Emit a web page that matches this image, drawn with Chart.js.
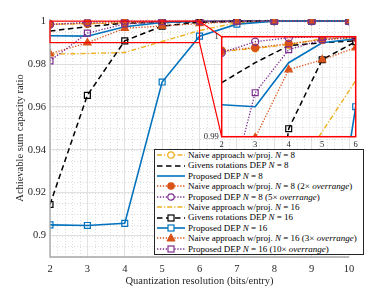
<!DOCTYPE html>
<html>
<head>
<meta charset="utf-8">
<script src="https://cdn.jsdelivr.net/npm/chart.js@4.4.1/dist/chart.umd.min.js"></script>
<style>
body { margin: 0; background: #fff; }
#wrap { position: relative; width: 385px; height: 289px; overflow: hidden; }
#main { position: absolute; left: 0; top: 0; }
#insetBox { position: absolute; left: 195px; top: 28px; width: 170px; height: 124px; }
#legend {
    position: absolute; left: 154px; top: 149px; width: 208px; height: 104px;
    border: 1px solid #262626; background: #fff;
    font-family: "Liberation Serif", serif; font-size: 9px; color: #000;
}
#legend .row { height: 10.4px; line-height: 10.4px; white-space: nowrap; display: flex; align-items: center; }
#legend svg { flex: none; margin-left: 1px; margin-right: 2px; }
</style>
</head>
<body>
<div id="wrap">
    <canvas id="main" width="385" height="289"></canvas>
    <div id="insetBox"><canvas id="inset" width="170" height="124"></canvas></div>
    <div id="legend"></div>
</div>
<script>
// Quantization resolution (bits/entry)
const resolution = [2, 3, 4, 5, 6, 7, 8, 9, 10];

// Achievable sum capacity ratio, one list per curve
const naiveN8    = [0.9985, 0.99885, 0.9992, 0.9998, 0.9999, 1, 1, 1, 1];
const givensN8   = [0.9954, 0.9974, 0.9991, 0.9994, 0.9996, 0.9999, 1, 1, 1];
const propN8     = [0.9932, 0.9930, 0.9974, 0.9994, 0.9998, 1, 1, 1, 1];
const naiveN8x2  = [0.9986, 0.9989, 0.9993, 0.9997, 0.9999, 1, 1, 1, 1];
const propN8x5   = [0.9984, 0.9995, 0.9999, 1, 1, 1, 1, 1, 1];
const naiveN16   = [0.9846, 0.9849, 0.9854, 0.9905, 0.9956, 0.9993, 0.9999, 1, 1];
const givensN16  = [0.9145, 0.9654, 0.9908, 0.9977, 0.9995, 1, 1, 1, 1];
const propN16    = [0.9050, 0.9047, 0.9057, 0.9716, 0.9930, 0.9986, 1, 1, 1];
const naiveN16x3 = [0.9848, 0.9899, 0.9967, 0.9977, 0.9989, 0.9997, 1, 1, 1];
const propN16x10 = [0.9815, 0.9944, 0.9987, 0.9997, 1, 1, 1, 1, 1];

const seriesLabels = [
    'Naive approach w/proj. N = 8',
    'Givens rotations DEP N = 8',
    'Proposed DEP N = 8',
    'Naive approach w/proj. N = 8 (2\u00d7 overrange)',
    'Proposed DEP N = 8 (5\u00d7 overrange)',
    'Naive approach w/proj. N = 16',
    'Givens rotations DEP N = 16',
    'Proposed DEP N = 16',
    'Naive approach w/proj. N = 16 (3\u00d7 overrange)',
    'Proposed DEP N = 16 (10\u00d7 overrange)'
];
const seriesValues = [naiveN8, givensN8, propN8, naiveN8x2, propN8x5,
                      naiveN16, givensN16, propN16, naiveN16x3, propN16x10];

// tick labels
const xTicks = [2, 3, 4, 5, 6, 7, 8, 9, 10];
const yTicks = [0.9, 0.92, 0.94, 0.96, 0.98, 1];
const insetXTicks = [2, 3, 4, 5, 6];
const insetYTicks = [0.99, 1];

// matlab colours
const BLUE = '#0072BD', ORANGE = '#D95319', YELLOW = '#EDB120', PURPLE = '#7E2F8E', BLACK = '#000000';
const DASHDOT = [5, 2, 1.2, 2], DASHED = [5.5, 3.5], DOTTED = [1.3, 1.6], SOLID = [];

const styles = [
    {color: YELLOW, dash: DASHDOT, marker: 'circle', filled: false, width: 1.4},
    {color: BLACK, dash: DASHED, marker: false, filled: false, width: 1.5},
    {color: BLUE, dash: SOLID, marker: false, filled: false, width: 1.6},
    {color: ORANGE, dash: DOTTED, marker: 'circle', filled: true, width: 1.3},
    {color: PURPLE, dash: DOTTED, marker: 'circle', filled: false, width: 1.3},
    {color: YELLOW, dash: DASHDOT, marker: false, filled: false, width: 1.4},
    {color: BLACK, dash: DASHED, marker: 'rect', filled: false, width: 1.5},
    {color: BLUE, dash: SOLID, marker: 'rect', filled: false, width: 1.6},
    {color: ORANGE, dash: DOTTED, marker: 'triangle', filled: true, width: 1.3},
    {color: PURPLE, dash: DOTTED, marker: 'rect', filled: false, width: 1.3}
];

const SERIF = '"Liberation Serif", "Times New Roman", serif';

function markerRadius(m) {
    if (m === 'rect') return 4.2;
    if (m === 'triangle') return 4.2;
    return 3.6;
}

function buildDatasets() {
    return seriesValues.map((vals, i) => {
        const s = styles[i];
        return {
            label: seriesLabels[i],
            data: resolution.map((x, j) => ({x: x, y: vals[j]})),
            borderColor: s.color,
            borderWidth: s.width,
            borderDash: s.dash,
            pointStyle: s.marker,
            pointRadius: s.marker ? markerRadius(s.marker) : 0,
            pointBorderWidth: 1.2,
            pointBorderColor: s.color,
            pointBackgroundColor: s.filled ? s.color : 'rgba(255,255,255,0)',
            fill: false,
            tension: 0,
            order: 10 - i
        };
    });
}

// dotted minor grid, drawn under the data
function minorGrid(xStep, yStep) {
    return {
        id: 'minorGrid',
        beforeDatasetsDraw(chart) {
            const {ctx, chartArea: a, scales: {x, y}} = chart;
            ctx.save();
            ctx.strokeStyle = '#d4d4d4';
            ctx.lineWidth = 0.8;
            ctx.setLineDash([1, 2]);
            ctx.beginPath();
            for (let v = x.min; v <= x.max + 1e-9; v += xStep) {
                if (Math.abs(v - Math.round(v)) < 1e-6) continue;
                const px = Math.round(x.getPixelForValue(v)) + 0.5;
                ctx.moveTo(px, a.top); ctx.lineTo(px, a.bottom);
            }
            const y0 = Math.ceil(y.min / yStep) * yStep;
            for (let v = y0; v <= y.max + 1e-9; v += yStep) {
                const py = Math.round(y.getPixelForValue(v)) + 0.5;
                ctx.moveTo(a.left, py); ctx.lineTo(a.right, py);
            }
            ctx.stroke();
            ctx.restore();
        }
    };
}

let insetChart = null;

const zoomMarks = {
    id: 'zoomMarks',
    afterDraw(chart) {
        const {ctx, chartArea: a, scales: {x, y}} = chart;
        ctx.save();
        // axes box
        ctx.strokeStyle = '#a6a6a6';
        ctx.lineWidth = 1.3;
        ctx.beginPath();
        ctx.moveTo(a.left, a.top); ctx.lineTo(a.left, a.bottom); ctx.lineTo(a.right, a.bottom);
        ctx.stroke();
        // zoomed region
        const x0 = x.getPixelForValue(2), x1 = x.getPixelForValue(6);
        const yTop = y.getPixelForValue(1), yBot = y.getPixelForValue(0.99);
        ctx.strokeStyle = '#ff0000';
        ctx.lineWidth = 1.2;
        ctx.strokeRect(x0, yTop, x1 - x0, yBot - yTop);
        if (insetChart) {
            const box = document.getElementById('insetBox');
            const ia = insetChart.chartArea;
            const ix = box.offsetLeft + ia.left, iTop = box.offsetTop + ia.top, iBot = box.offsetTop + ia.bottom;
            ctx.beginPath();
            ctx.moveTo(x1, yTop); ctx.lineTo(ix, iTop);
            ctx.moveTo(x1, yBot); ctx.lineTo(ix, iBot);
            ctx.stroke();
        }
        ctx.restore();
    }
};

const mainChart = new Chart(document.getElementById('main'), {
    type: 'line',
    data: {datasets: buildDatasets()},
    options: {
        responsive: false,
        animation: false,
        devicePixelRatio: 1,
        layout: {padding: {left: 0, top: 19, right: 36, bottom: 0}},
        plugins: {legend: {display: false}, tooltip: {enabled: false}},
        elements: {line: {borderCapStyle: 'butt'}},
        scales: {
            x: {
                type: 'linear', min: 2, max: 10,
                afterBuildTicks: s => { s.ticks = xTicks.map(v => ({value: v})); },
                afterFit: s => { s.height = 32; },
                grid: {color: '#e2e2e2', lineWidth: 1, drawTicks: false},
                border: {display: false},
                ticks: {padding: 6, color: '#262626', font: {family: SERIF, size: 10.5}, maxRotation: 0},
                title: {display: true, text: 'Quantization resolution (bits/entry)', color: '#262626',
                        font: {family: SERIF, size: 10.5}, padding: {top: 0, bottom: 1}}
            },
            y: {
                type: 'linear', min: 0.89, max: 1.001,
                afterBuildTicks: s => { s.ticks = yTicks.map(v => ({value: v})); },
                afterFit: s => { s.width = 50; },
                grid: {color: '#e2e2e2', lineWidth: 1, drawTicks: false},
                border: {display: false},
                ticks: {padding: 4, color: '#262626', font: {family: SERIF, size: 10.5},
                        callback: v => String(+v.toFixed(2))},
                title: {display: true, text: 'Achievable sum capacity ratio', color: '#262626',
                        font: {family: SERIF, size: 10.5}, padding: {top: 14, bottom: 0}}
            }
        }
    },
    plugins: [minorGrid(0.2, 0.005), zoomMarks]
});

const insetFrame = {
    id: 'insetFrame',
    beforeDraw(chart) {
        const {ctx, chartArea: a} = chart;
        ctx.save();
        ctx.fillStyle = '#fff';
        ctx.fillRect(a.left, a.top, a.right - a.left, a.bottom - a.top);
        ctx.restore();
    },
    afterDraw(chart) {
        const {ctx, chartArea: a} = chart;
        ctx.save();
        ctx.strokeStyle = '#ff0000';
        ctx.lineWidth = 1.5;
        ctx.strokeRect(a.left, a.top, a.right - a.left, a.bottom - a.top);
        ctx.restore();
    }
};

insetChart = new Chart(document.getElementById('inset'), {
    type: 'line',
    data: {datasets: buildDatasets()},
    options: {
        responsive: false,
        animation: false,
        devicePixelRatio: 1,
        layout: {padding: {left: 0, top: 8.7, right: 9.3, bottom: 0}},
        plugins: {legend: {display: false}, tooltip: {enabled: false}},
        scales: {
            x: {
                type: 'linear', min: 2, max: 6,
                afterBuildTicks: s => { s.ticks = insetXTicks.map(v => ({value: v})); },
                afterFit: s => { s.height = 15.3; },
                grid: {color: '#e6e6e6', drawTicks: false},
                border: {display: false},
                ticks: {padding: 3, color: '#262626', font: {family: SERIF, size: 8.5}, maxRotation: 0}
            },
            y: {
                type: 'linear', min: 0.99, max: 1,
                afterBuildTicks: s => { s.ticks = insetYTicks.map(v => ({value: v})); },
                afterFit: s => { s.width = 26.7; },
                grid: {color: '#e6e6e6', drawTicks: false},
                border: {display: false},
                ticks: {padding: 3, color: '#262626', font: {family: SERIF, size: 8.5},
                        callback: v => String(+v.toFixed(2))}
            }
        }
    },
    plugins: [insetFrame, minorGrid(0.2, 0.001)]
});

// redraw so the connector lines know where the inset sits
mainChart.draw();

// legend with italic N / overrange
function legendLabel(text) {
    return text.replace(/\bN\b/, '<i>N</i>').replace('overrange', '<i>overrange</i>');
}

function swatch(s) {
    let svg = '<svg width="30" height="10" viewBox="0 0 30 10">';
    svg += `<line x1="1" y1="5" x2="29" y2="5" stroke="${s.color}" stroke-width="${s.width}" stroke-dasharray="${s.dash.length ? s.dash.join(' ') : 'none'}"/>`;
    const fill = s.filled ? s.color : '#fff';
    if (s.marker === 'circle') {
        svg += `<circle cx="15" cy="5" r="3.2" fill="${fill}" stroke="${s.color}" stroke-width="1.2"/>`;
    } else if (s.marker === 'rect') {
        svg += `<rect x="12" y="2" width="6" height="6" fill="${fill}" stroke="${s.color}" stroke-width="1.2"/>`;
    } else if (s.marker === 'triangle') {
        svg += `<polygon points="15,0.8 19,8 11,8" fill="${fill}" stroke="${s.color}" stroke-width="1"/>`;
    }
    return svg + '</svg>';
}

const legendEl = document.getElementById('legend');
seriesLabels.forEach((lab, i) => {
    const row = document.createElement('div');
    row.className = 'row';
    row.innerHTML = swatch(styles[i]) + '<span>' + legendLabel(lab) + '</span>';
    legendEl.appendChild(row);
});
</script>
</body>
</html>
